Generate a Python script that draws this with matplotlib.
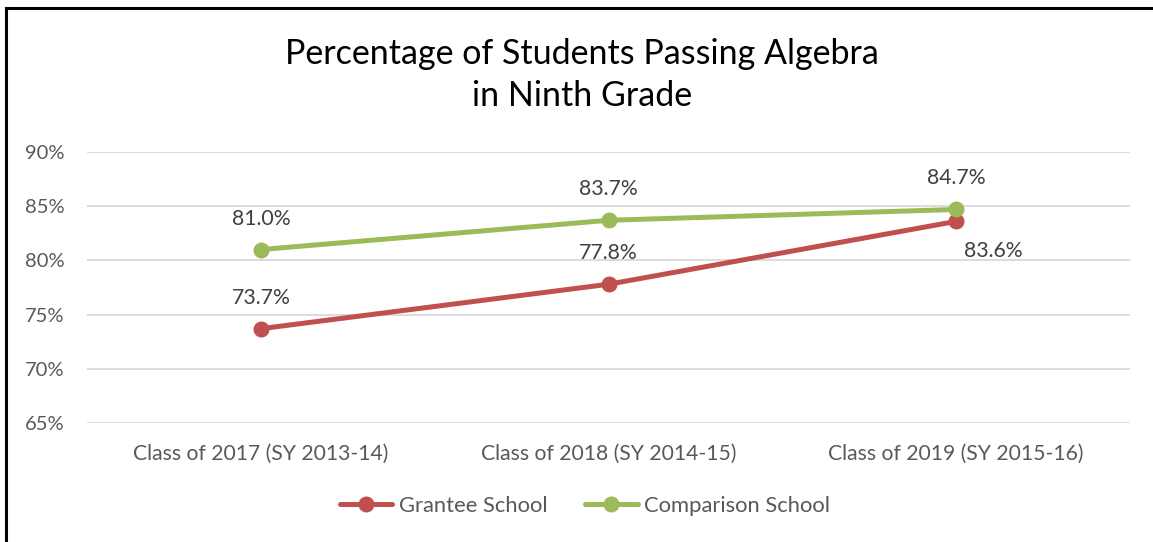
import matplotlib
matplotlib.use("Agg")
import matplotlib.pyplot as plt
from matplotlib.ticker import FuncFormatter

categories = ["Class of 2017 (SY 2013-14)", "Class of 2018 (SY 2014-15)", "Class of 2019 (SY 2015-16)"]
grantee = [73.7, 77.8, 83.6]
comparison = [81.0, 83.7, 84.7]
yticks = [65, 70, 75, 80, 85, 90]

plt.rcParams['font.family'] = ['Lato', 'DejaVu Sans']
gray = '#595959'
dgray = '#404040'
red = '#C0504D'
green = '#9BBB59'

fig = plt.figure(figsize=(11.53, 5.42), dpi=100)
ax = fig.add_axes([87/1153, 1 - 423/542, (1130-87)/1153, (423-152)/542])

x = list(range(len(categories)))
ax.plot(x, grantee, color=red, lw=3.6, marker='o', ms=10.5, label='Grantee School',
        solid_capstyle='round', zorder=3)
ax.plot(x, comparison, color=green, lw=3.6, marker='o', ms=10.5, label='Comparison School',
        solid_capstyle='round', zorder=3)

lab_fs = 15.3
for i, v in enumerate(comparison):
    ax.annotate(f"{v:.1f}%", (i, v), xytext=(0, 22.3), textcoords='offset points',
                ha='center', va='center', fontsize=lab_fs, color=dgray)
for i, v in enumerate(grantee):
    if i == 2:
        ax.annotate(f"{v:.1f}%", (i, v), xytext=(26.6, -21.6), textcoords='offset points',
                    ha='center', va='center', fontsize=lab_fs, color=dgray)
    else:
        ax.annotate(f"{v:.1f}%", (i, v), xytext=(0, 22.3), textcoords='offset points',
                    ha='center', va='center', fontsize=lab_fs, color=dgray)

ax.set_xlim(-0.5, len(categories) - 0.5)
ax.set_ylim(65, 90)
ax.set_yticks(yticks)
ax.yaxis.set_major_formatter(FuncFormatter(lambda v, p: f"{v:.0f}%"))
ax.set_xticks(x)
ax.set_xticklabels(categories)
ax.tick_params(axis='both', length=0, labelcolor=gray)
ax.tick_params(axis='x', pad=15, labelsize=15.2)
ax.tick_params(axis='y', pad=16, labelsize=14.5)
ax.grid(axis='y', color='#D9D9D9', lw=1.3)
ax.set_axisbelow(True)
for s in ax.spines.values():
    s.set_visible(False)

fig.text(582/1153, 1 - 75/542, "Percentage of Students Passing Algebra\nin Ninth Grade",
         ha='center', va='center', fontsize=24.5, color='black', linespacing=1.42)

leg = fig.legend(loc='center', bbox_to_anchor=(585/1153, 1 - 506/542), ncol=2, frameon=False,
                 fontsize=15.8, handlelength=2.4, columnspacing=1.7, handletextpad=0.3)
for t in leg.get_texts():
    t.set_color(gray)

# outer border lines (left and top)
fig.add_artist(plt.Line2D([6/1153, 6/1153], [0, 1 - 8/542], transform=fig.transFigure, color='black', lw=2.2))
fig.add_artist(plt.Line2D([6/1153, 1], [1 - 8/542, 1 - 8/542], transform=fig.transFigure, color='black', lw=2.2))

fig.savefig("out.png", dpi=100)
